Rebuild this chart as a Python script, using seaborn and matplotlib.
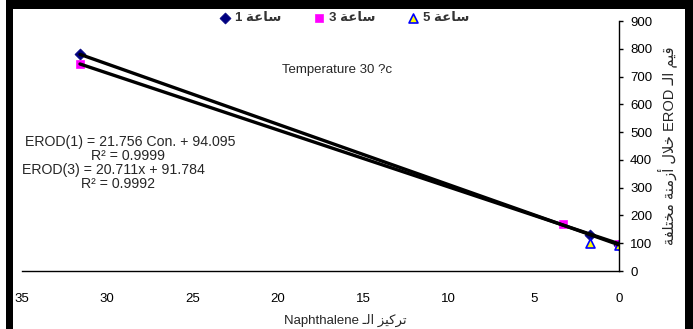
import numpy as np
import pandas as pd
import matplotlib
matplotlib.use("Agg")
import matplotlib.pyplot as plt
from matplotlib.patches import Rectangle
import seaborn as sns

# =====================================
# DATA
# =====================================
hours = [1, 3, 5]

hour1_x = [31.6, 1.7, 0.0]
hour1_y = [780, 130, 95]

hour3_x = [31.6, 3.3, 0.0]
hour3_y = [745, 168, 96]

hour5_x = [1.7, 0.0]
hour5_y = [102, 93]

x_ticks = [35, 30, 25, 20, 15, 10, 5, 0]
y_ticks = [0, 100, 200, 300, 400, 500, 600, 700, 800, 900]

eq_lines = ["EROD(1) = 21.756 Con. + 94.095", "R\u00b2 = 0.9999",
            "EROD(3) = 20.711x + 91.784", "R\u00b2 = 0.9992"]
title_txt = "Temperature 30 ?c"

# Arabic text, written in visual order with presentation forms
# (matplotlib does no shaping / bidi on its own)
SAA = "\ufe94\ufecb\ufe8e\ufeb3"                      # ساعة
AL = "\u0640\ufedf\ufe8d"                             # الـ
x_label = "Naphthalene " + AL + " " + "\ufeb0\ufef4\ufedb\ufeae\ufe97"   # تركيز الـ Naphthalene
y_label = ("\ufe94\ufed4\ufee0\ufe98\ufea8\ufee3" + " "      # مختلفة
           + "\ufe94\ufee8\ufee3\ufeaf\ufe83" + " "          # أزمنة
           + "\ufedd\ufefc\ufea7" + " EROD " + AL + " "      # خلال EROD الـ
           + "\ufee2\ufef4\ufed7")                           # قيم

# =====================================
# PLOT
# =====================================
sns.set_style("white")
plt.rcParams['font.family'] = ['Liberation Sans', 'DejaVu Sans']

W, H = 693, 329
fig = plt.figure(figsize=(W / 100, H / 100), dpi=100, facecolor="white")

# black frame around the chart (top, left, right)
fig.add_artist(Rectangle((6 / W, -0.1), 1.0, 1.2, transform=fig.transFigure,
                         facecolor="black", edgecolor="none", zorder=-3))
fig.add_artist(Rectangle((13 / W, -0.1), (685 - 13) / W, (H - 9) / H + 0.1,
                         transform=fig.transFigure, facecolor="white",
                         edgecolor="none", zorder=-2))

ax = fig.add_axes([22 / W, 58 / H, (619 - 22) / W, 250 / H])
ax.set_facecolor("none")

sns.scatterplot(x=hour1_x, y=hour1_y, marker="D", s=32, color="#000080",
                edgecolor="#000080", label=f"{hours[0]} {SAA}", ax=ax, zorder=2)
sns.scatterplot(x=hour3_x, y=hour3_y, marker="s", s=36, color="#FF00FF",
                edgecolor="#FF00FF", label=f"{hours[1]} {SAA}", ax=ax, zorder=2)
sns.scatterplot(x=hour5_x, y=hour5_y, marker="^", s=42, color="#FFFF00",
                edgecolor="#0000FF", linewidth=1.2, label=f"{hours[2]} {SAA}", ax=ax, zorder=2)

# linear trend lines for hour 1 and hour 3
for xs, ys in [(hour1_x, hour1_y), (hour3_x, hour3_y)]:
    sns.regplot(x=np.array(xs), y=np.array(ys), ci=None, scatter=False,
                color="black", line_kws=dict(lw=2.4, zorder=3), ax=ax)

ax.set_xlim(35, 0)
ax.set_ylim(0, 900)
ax.set_xticks(x_ticks)
ax.set_yticks(y_ticks)
ax.yaxis.tick_right()
for s in ["top", "left"]:
    ax.spines[s].set_visible(False)
for s in ["right", "bottom"]:
    ax.spines[s].set_color("black")
    ax.spines[s].set_linewidth(1.0)
ax.tick_params(axis="x", direction="out", length=3, width=1, pad=13, labelsize=9.5, colors="black")
ax.tick_params(axis="y", direction="out", length=3, width=1, pad=5, labelsize=9.5, colors="black")
ax.tick_params(axis="y", left=False, right=True)

ax.set_xlabel(x_label, fontsize=9.5)
ax.xaxis.set_label_coords((345 - 22) / 597, -0.17)
ax.yaxis.set_label_position("right")
ax.set_ylabel(y_label, fontsize=10.5, rotation=90, va="center", ha="center")
ax.yaxis.set_label_coords((667 - 22) / 597, 0.5)

ax.text((337 - 22) / 597, (271 - 70) / 250, title_txt, transform=ax.transAxes,
        ha="center", va="center", fontsize=9.5)

eq_pos = [(25, 142, "left"), (128, 156, "center"), (22, 170, "left"), (118, 184, "center")]
for (px, py, ha), txt in zip(eq_pos, eq_lines):
    fig.text(px / W, 1 - py / H, txt, ha=ha, va="center", fontsize=10.2)

leg = ax.legend(loc="center", bbox_to_anchor=(344 / W, 1 - 18 / H), bbox_transform=fig.transFigure,
                ncol=3, frameon=False, handletextpad=0.3, columnspacing=2.3,
                borderpad=0, handlelength=1.0, prop=dict(weight="bold", size=9.5))
for t in leg.get_texts():
    t.set_color("#333333")

plt.savefig("out.png", dpi=100, facecolor="white")
plt.close()
